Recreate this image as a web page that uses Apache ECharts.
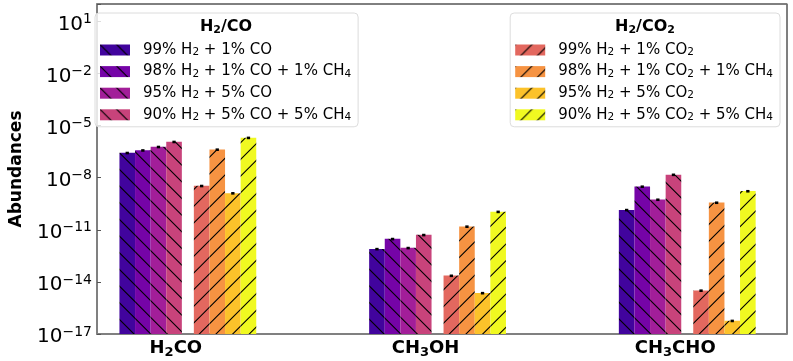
<!DOCTYPE html>
<html><head><meta charset="utf-8">
<script src="https://cdn.jsdelivr.net/npm/echarts@6/dist/echarts.min.js"></script>
<style>html,body{margin:0;padding:0;background:#fff}#c{width:793px;height:361px}</style>
</head><body><div id="c"></div>
<script>
// ---- data ----
const categories = ['H2CO', 'CH3OH', 'CH3CHO'];
const coNames = ['99% H2 + 1% CO', '98% H2 + 1% CO + 1% CH4', '95% H2 + 5% CO', '90% H2 + 5% CO + 5% CH4'];
const co2Names = ['99% H2 + 1% CO2', '98% H2 + 1% CO2 + 1% CH4', '95% H2 + 5% CO2', '90% H2 + 5% CO2 + 5% CH4'];
const co_99 = [2.7e-7, 7.9e-13, 1.4e-10];
const co_98 = [3.8e-7, 3.0e-12, 3.1e-9];
const co_95 = [6.0e-7, 9.1e-13, 5.5e-10];
const co_90 = [1.17e-6, 5.1e-12, 1.5e-8];
const co2_99 = [3.4e-9, 2.3e-14, 3.2e-15];
const co2_98 = [4.2e-7, 1.55e-11, 3.7e-10];
const co2_95 = [1.29e-9, 2.3e-15, 5.8e-17];
const co2_90 = [2.0e-6, 1.1e-10, 1.7e-9];
const yTickExponents = [-17, -14, -11, -8, -5, -2, 1];
const legendTitles = ['H2/CO', 'H2/CO2'];
const yMin = 1e-17, yMax = 100;

// ---- styles ----
const coColors = ['#41049d', '#7504a7', '#a21e99', '#c8437b'];
const co2Colors = ['#e3685f', '#f69342', '#fcc22a', '#f0f921'];
const FONT = 'DejaVu Sans';

function hatch(color, back) {
  const s = 50, step = s / 3;
  const c = document.createElement('canvas');
  c.width = s; c.height = s;
  const g = c.getContext('2d');
  g.fillStyle = color; g.fillRect(0, 0, s, s);
  g.strokeStyle = '#000'; g.lineWidth = 1.1;
  g.beginPath();
  for (let k = -4; k <= 4; k++) {
    const o = k * step;
    if (back) { g.moveTo(o - 2, -2); g.lineTo(o + s + 2, s + 2); }
    else { g.moveTo(o - 2, s + 2); g.lineTo(o + s + 2, -2); }
  }
  g.stroke();
  return { image: c, repeat: 'repeat' };
}

function toRich(name, base, sub) {
  return '{' + base + '|' + name.replace(/([A-Z])(\d)/g, '$1}{' + sub + '|$2}{' + base + '|') + '}';
}

// ECharts log-axis bars grow from value 1, so the hidden bar axis is expressed
// relative to yMin (value / yMin), which puts the bar base on the axis bottom.
const rel = arr => arr.map(v => v / yMin);

const capLabel = { show: true, position: 'top', distance: -1.5, formatter: ' ', fontSize: 1, lineHeight: 1, padding: [0.8, 1.5], backgroundColor: '#000' };

const coData = [co_99, co_98, co_95, co_90];
const co2Data = [co2_99, co2_98, co2_95, co2_90];
const BW = 15.6;
const series = [];
coNames.forEach((n, i) => series.push({
  type: 'bar', name: n, data: rel(coData[i]), xAxisIndex: 1, yAxisIndex: 1, clip: false,
  barWidth: BW, barGap: '0%', itemStyle: { color: hatch(coColors[i], true) },
  label: capLabel, emphasis: { disabled: true }
}));
// empty spacer between the two families of bars
series.push({ type: 'bar', name: '', data: [], xAxisIndex: 1, yAxisIndex: 1, barWidth: 12, barGap: '0%' });
co2Names.forEach((n, i) => series.push({
  type: 'bar', name: n, data: rel(co2Data[i]), xAxisIndex: 1, yAxisIndex: 1, clip: false,
  barWidth: BW, barGap: '0%', itemStyle: { color: hatch(co2Colors[i], false) },
  label: capLabel, emphasis: { disabled: true }
}));

const gridPos = { top: 4, height: 330 };

const legendBase = {
  orient: 'vertical', top: 13, itemWidth: 30, itemHeight: 11, itemGap: 6.1, icon: 'rect',
  selectedMode: false, padding: [29.5, 7, 4, 5], backgroundColor: 'rgba(255,255,255,0.8)',
  borderColor: '#dcdcdc', borderWidth: 1, borderRadius: 4,
  formatter: n => toRich(n, 'n', 's'),
  textStyle: {
    padding: [0, 0, 0, 8],
    rich: {
      n: { fontFamily: FONT, fontSize: 15, color: '#000', lineHeight: 16 },
      s: { fontFamily: FONT, fontSize: 10.5, color: '#000', lineHeight: 7, verticalAlign: 'bottom' }
    }
  }
};

const titleRich = {
  b: { fontFamily: FONT, fontSize: 16, fontWeight: 'bold', color: '#000', lineHeight: 18 },
  s: { fontFamily: FONT, fontSize: 11, fontWeight: 'bold', color: '#000', lineHeight: 10, verticalAlign: 'bottom' }
};

const option = {
  animation: false,
  textStyle: { fontFamily: FONT },
  title: [
    { text: toRich(legendTitles[0], 'b', 's'), left: 226, top: 18, textAlign: 'center', padding: 0, textStyle: { rich: titleRich } },
    { text: toRich(legendTitles[1], 'b', 's'), left: 645, top: 18, textAlign: 'center', padding: 0, textStyle: { rich: titleRich } }
  ],
  legend: [
    Object.assign({}, legendBase, { left: 95, data: coNames }),
    Object.assign({}, legendBase, { right: 13, data: co2Names })
  ],
  grid: [
    Object.assign({ left: 87, width: 700, show: true, borderColor: '#000', borderWidth: 1 }, gridPos),
    // bar grid: categories placed edge to edge (boundaryGap false), spacing = width / 2
    Object.assign({ left: 187.85, width: 499.4 }, gridPos)
  ],
  xAxis: [
    { gridIndex: 0, type: 'category', data: categories, axisLine: { lineStyle: { color: '#808080', width: 2 } }, axisTick: { show: false }, axisLabel: { show: false }, splitLine: { show: false } },
    { gridIndex: 1, type: 'category', data: categories, boundaryGap: false, axisLine: { show: false }, axisTick: { show: false }, splitLine: { show: false },
      axisLabel: { margin: 3, padding: [0, 24, 0, 0], formatter: v => toRich(v, 'b', 's'),
        rich: {
          b: { fontFamily: FONT, fontSize: 18, fontWeight: 'bold', color: '#000', lineHeight: 22 },
          s: { fontFamily: FONT, fontSize: 13, fontWeight: 'bold', color: '#000', lineHeight: 16, verticalAlign: 'bottom' }
        } } },
    { gridIndex: 0, type: 'category', data: categories, position: 'top', axisLine: { lineStyle: { color: '#808080', width: 1.5 } }, axisTick: { show: false }, axisLabel: { show: false } }
  ],
  yAxis: [
    {
      type: 'log', logBase: 10, min: yMin, max: yMax, interval: 3,
      gridIndex: 0, name: 'Abundances', nameLocation: 'middle', nameGap: 72,
      nameTextStyle: { fontFamily: FONT, fontSize: 17, fontWeight: 'bold', color: '#000' },
      axisLine: { show: true, lineStyle: { color: '#808080', width: 2 } },
      axisTick: { show: true, inside: true, length: 4, lineStyle: { color: '#555' } },
      splitLine: { show: false }, minorTick: { show: false },
      axisLabel: {
        margin: 5, padding: [6, 0, 0, 0],
        formatter: v => {
          const e = Math.round(Math.log10(v));
          if (yTickExponents.indexOf(e) < 0) return '';
          return '{b|10}{s|' + String(e).replace('-', '\u2212') + '}';
        },
        rich: {
          b: { fontFamily: FONT, fontSize: 20, color: '#000', lineHeight: 24 },
          s: { fontFamily: FONT, fontSize: 14, color: '#000', lineHeight: 12, verticalAlign: 'top' }
        }
      }
    },
    { gridIndex: 1, type: 'log', logBase: 10, min: 1, max: yMax / yMin, show: false, splitLine: { show: false } }
  ],
  series: series
};

const chart = echarts.init(document.getElementById('c'), null, { renderer: 'canvas' });
chart.setOption(option);
</script>
</body></html>
